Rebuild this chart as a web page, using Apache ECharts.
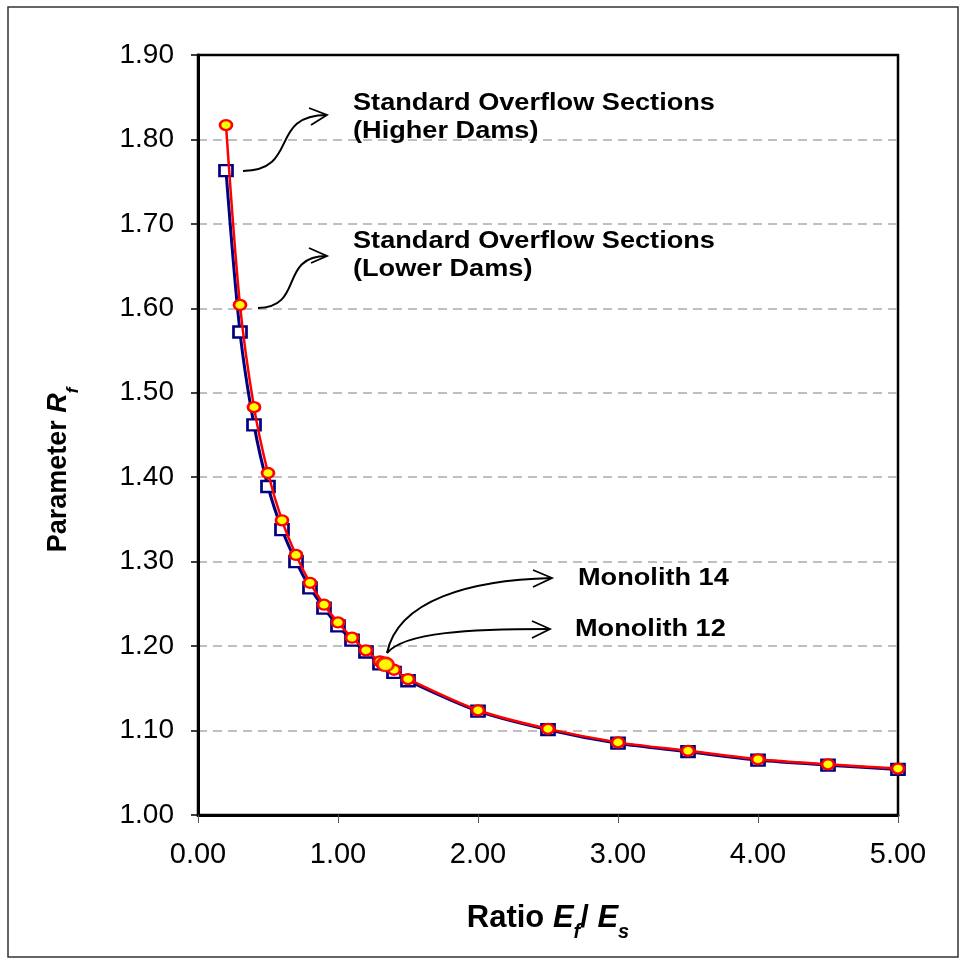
<!DOCTYPE html>
<html>
<head>
<meta charset="utf-8">
<script src="https://cdn.jsdelivr.net/npm/echarts@6/dist/echarts.min.js"></script>
<style>html,body{margin:0;padding:0;background:#fff}#c{width:961px;height:960px}</style>
</head>
<body>
<div id="c"></div>
<script>
// Data
var ratioEf = [0.2,0.3,0.4,0.5,0.6,0.7,0.8,0.9,1.0,1.1,1.2,1.3,1.4,1.5,2.0,2.5,3.0,3.5,4.0,4.5,5.0];
var rfBlue  = [1.763,1.572,1.462,1.389,1.338,1.300,1.269,1.245,1.224,1.207,1.193,1.179,1.169,1.159,1.123,1.101,1.085,1.075,1.065,1.059,1.054];
var rfRed   = [1.817,1.604,1.483,1.405,1.349,1.308,1.275,1.249,1.228,1.210,1.195,1.182,1.172,1.161,1.124,1.102,1.086,1.076,1.066,1.060,1.055];
var monolithNames = ['Monolith 14','Monolith 12'];
var monolithRatio = [1.335,1.34];
var monolithRf    = [1.179,1.178];
var yTicks = [1.00,1.10,1.20,1.30,1.40,1.50,1.60,1.70,1.80,1.90];
var xTicks = [0,1,2,3,4,5];

function pairs(xs, ys){ return xs.map(function(x,i){ return [x, ys[i]]; }); }

var FONT = '"Liberation Sans", Arial, sans-serif';
var chart = echarts.init(document.getElementById('c'), null, {renderer:'canvas'});

function annoText(x, y, t){
  return {type:'text', x:x, y:y, scaleX:1.18, z:10,
    style:{text:t, font:'bold 23px ' + FONT, fill:'#000', align:'left', verticalAlign:'middle'}};
}
function curve(x1,y1,cx1,cy1,cx2,cy2,x2,y2){
  return {type:'bezierCurve', z:10, shape:{x1:x1,y1:y1,cpx1:cx1,cpy1:cy1,cpx2:cx2,cpy2:cy2,x2:x2,y2:y2},
    style:{stroke:'#000', lineWidth:2, fill:null}};
}
function head(ax,ay,tx,ty,bx,by){
  return {type:'polyline', z:10, shape:{points:[[ax,ay],[tx,ty],[bx,by]]},
    style:{stroke:'#000', lineWidth:1.8, fill:null}};
}

var option = {
  backgroundColor:'#fff',
  animation:false,
  grid:{left:198, top:55, width:700, height:760, show:true, borderColor:'#000', borderWidth:2.5, backgroundColor:'transparent'},
  xAxis:{
    type:'value', min:0, max:5, interval:1,
    axisLine:{show:true, onZero:false, lineStyle:{color:'#000', width:3}},
    axisTick:{show:true, inside:false, length:8, lineStyle:{color:'#555', width:1}},
    splitLine:{show:false},
    axisLabel:{margin:25, fontFamily:FONT, fontSize:29, color:'#000', formatter:function(v){return v.toFixed(2);}},
    name:'{b|Ratio }{i|E}{s|f}{b|/ }{i|E}{s|s}',
    nameLocation:'middle', nameGap:79,
    nameTextStyle:{rich:{
      b:{fontFamily:FONT, fontWeight:'bold', fontSize:31, color:'#000', lineHeight:42, verticalAlign:'middle'},
      i:{fontFamily:FONT, fontWeight:'bold', fontStyle:'italic', fontSize:31, color:'#000', lineHeight:42, verticalAlign:'middle'},
      s:{fontFamily:FONT, fontWeight:'bold', fontStyle:'italic', fontSize:20, color:'#000', lineHeight:48, verticalAlign:'bottom'}
    }}
  },
  yAxis:{
    type:'value', min:1.0, max:1.9, interval:0.1,
    axisLine:{show:true, lineStyle:{color:'#000', width:3}},
    axisTick:{show:true, inside:false, length:7, lineStyle:{color:'#000', width:1.5}},
    splitLine:{show:true, showMaxLine:false, lineStyle:{color:'#aaa', width:1.5, type:[9,6]}},
    axisLabel:{margin:24, fontFamily:FONT, fontSize:28, color:'#000', formatter:function(v){return v.toFixed(2);}},
    name:'{b|Parameter }{i|R}{s|f}',
    nameLocation:'middle', nameGap:116, nameRotate:90,
    nameTextStyle:{padding:[0,70,0,0], rich:{
      b:{fontFamily:FONT, fontWeight:'bold', fontSize:27, color:'#000', lineHeight:40, verticalAlign:'middle'},
      i:{fontFamily:FONT, fontWeight:'bold', fontStyle:'italic', fontSize:27, color:'#000', lineHeight:40, verticalAlign:'middle'},
      s:{fontFamily:FONT, fontWeight:'bold', fontStyle:'italic', fontSize:17, color:'#000', lineHeight:46, verticalAlign:'bottom'}
    }}
  },
  series:[
    {type:'line', name:'Blue', data:pairs(ratioEf, rfBlue), smooth:0.3, z:2,
     lineStyle:{color:'#000080', width:3}, symbol:'rect', symbolSize:[13,11],
     itemStyle:{color:'#fff', borderColor:'#000080', borderWidth:2.5}},
    {type:'line', name:'Red', data:pairs(ratioEf, rfRed), smooth:0.3, z:3,
     lineStyle:{color:'#ff0000', width:2.5}, symbol:'circle', symbolSize:[12,10],
     itemStyle:{color:'#ffff00', borderColor:'#ff0000', borderWidth:2.5}},
    {type:'scatter', name:'Monolith', data:monolithRatio.map(function(x,i){return {name:monolithNames[i], value:[x, monolithRf[i]]};}), z:4,
     symbol:'circle', symbolSize:[16,13],
     itemStyle:{color:'#ffff00', borderColor:'#ff0000', borderWidth:2.5}}
  ],
  graphic:[
    {type:'rect', shape:{x:8, y:7, width:950, height:950}, style:{fill:null, stroke:'#333', lineWidth:1.5}, z:1},
    annoText(353, 103.5, 'Standard Overflow Sections'),
    annoText(353, 132, '(Higher Dams)'),
    annoText(353, 242, 'Standard Overflow Sections'),
    annoText(353, 270, '(Lower Dams)'),
    annoText(578, 578.5, 'Monolith 14'),
    annoText(575, 629.5, 'Monolith 12'),
    curve(243,171, 300,170, 268,115, 327,115),
    head(309,108, 327,115, 311,125),
    curve(258,308, 305,307, 278,256, 327,256),
    head(309,248, 327,256, 311,263),
    curve(387,653, 398,600, 470,580, 552,578),
    head(533,570, 552,578, 533,587),
    curve(387,653, 405,632, 470,629, 550,629),
    head(532,621, 550,629, 532,638)
  ]
};
chart.setOption(option);
</script>
</body>
</html>
